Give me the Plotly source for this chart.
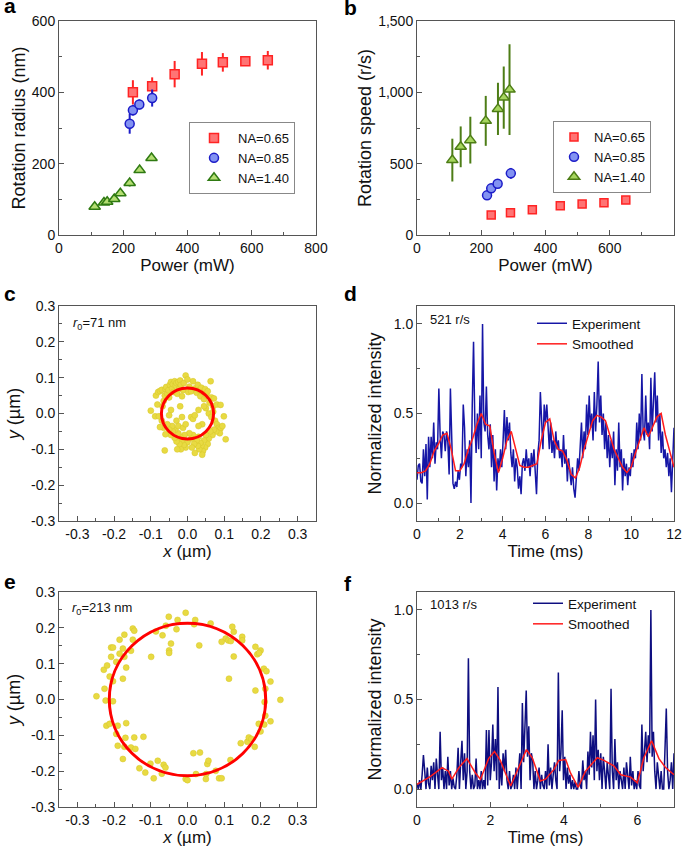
import plotly.graph_objects as go

# ---------------- data ----------------
# panel a / b : power (mW) vs rotation radius (nm) and rotation speed (r/s)
a_p065_x = [230, 290, 360, 445, 510, 580, 650]
a_p065_y = [400, 417, 451, 480, 484, 487, 490]
a_p065_e = [34, 25, 37, 33, 26, 8, 26]
a_p085_x = [220, 230, 250, 290]
a_p085_y = [312, 350, 366, 384]
a_p085_e = [28, 15, 14, 24]
a_p140_x = [111, 140, 150, 172, 191, 220, 251, 288]
a_p140_y = [79, 91, 93, 101, 117, 146, 182, 216]
a_p140_e = [5, 6, 6, 7, 8, 10, 8, 7]

b_p065_x = [231, 291, 359, 446, 514, 582, 650]
b_p065_y = [140, 156, 177, 205, 217, 226, 245]
b_p065_e = [10, 12, 20, 25, 15, 15, 12]
b_p085_x = [218, 231, 251, 292]
b_p085_y = [278, 327, 359, 432]
b_p085_e = [15, 15, 15, 38]
b_p140_x = [110, 136, 166, 214, 252, 270, 288]
b_p140_y = [525, 618, 665, 800, 884, 963, 1019]
b_p140_e = [150, 143, 164, 175, 183, 218, 318]

legend_names = ["NA=0.65", "NA=0.85", "NA=1.40"]

# panel c : particle positions (um), fitted radius
c_x = [-0.1, -0.088, -0.086, -0.08, -0.075, -0.07, -0.068, -0.065, -0.062, -0.06, -0.058, -0.055,
       -0.052, -0.05, -0.048, -0.045, -0.042, -0.04, -0.038, -0.035, -0.032, -0.03, -0.028, -0.025,
       -0.022, -0.02, -0.018, -0.015, -0.012, -0.01, -0.005, 0.0, 0.002, 0.005,
       0.01, 0.015, 0.02, 0.025, 0.028, 0.032, 0.035, 0.038, 0.042, 0.045, 0.048, 0.052, 0.055,
       0.06, 0.063, 0.065, 0.07, 0.072, 0.08, 0.09,
       0.05, 0.058, 0.065, 0.07, 0.075, 0.08, 0.085, 0.09, 0.095, 0.099, 0.104, 0.088, 0.078, 0.072,
       0.068, 0.062, 0.058, 0.055, 0.05, 0.048, 0.045, 0.042, 0.04, 0.038, 0.035, 0.032, 0.03,
       0.028, 0.025, 0.02, 0.018, 0.015, 0.012, 0.01, 0.005,
       0.0, -0.005, -0.008, -0.01, -0.015, -0.018, -0.02, -0.022, -0.025, -0.028, -0.03, -0.033,
       -0.035, -0.04, -0.042, -0.045, -0.05, -0.055, -0.06, -0.062, -0.065, -0.07, -0.075, -0.078, -0.082,
       -0.03, -0.025, -0.015, -0.012, 0.01, 0.015, 0.02, 0.03, -0.02, -0.045, -0.05, 0.045, 0.04,
       -0.005, 0.03]
c_y = [0.008, -0.008, 0.05, 0.06, 0.063, 0.066, 0.02, 0.035, 0.05, 0.068, 0.074, 0.055,
       0.065, 0.045, 0.08, 0.088, 0.07, 0.082, 0.06, 0.09, 0.078, 0.085, 0.055, 0.088,
       0.07, 0.092, 0.08, 0.048, 0.065, 0.085, 0.106, 0.095, 0.06, 0.075,
       0.062, 0.09, 0.07, 0.058, 0.08, 0.066, 0.048, 0.072, 0.06, 0.04, 0.068, 0.05, 0.062,
       0.03, 0.09, 0.045, 0.02, 0.042, 0.025, 0.024,
       0.015, 0.0, -0.01, 0.005, -0.02, -0.03, -0.04, -0.042, -0.035, -0.008, -0.072, -0.055, -0.05, -0.045,
       -0.06, -0.05, -0.07, -0.085, -0.06, -0.095, -0.075, -0.105, -0.115, -0.09, -0.082, -0.1, -0.065,
       -0.09, -0.075, -0.11, -0.085, -0.06, -0.095, -0.07, -0.055,
       -0.08, -0.095, -0.06, -0.088, -0.075, -0.1, -0.065, -0.085, -0.055, -0.1, -0.078, -0.045,
       -0.068, -0.05, -0.035, -0.06, -0.045, -0.03, -0.058, -0.103, -0.04, -0.02, -0.038, -0.008, 0.025,
       -0.02, -0.035, -0.01, -0.04, -0.01, -0.015, -0.005, 0.01, 0.02, 0.01, -0.005, 0.02, -0.03,
       -0.03, -0.035]
c_r0 = 0.071

# panel e : particle positions (um), fitted radius
e_x = [-0.248, -0.228, -0.219, -0.208, -0.208, -0.203, -0.185, -0.172, -0.149, -0.145, -0.149, -0.176,
       -0.154, -0.172, -0.194, -0.185, -0.167, -0.212, -0.203, -0.176, -0.226, -0.223, -0.203, -0.221,
       -0.212, -0.19, -0.194, -0.19, -0.172, -0.167, -0.169, -0.154, -0.145, -0.142, -0.176, -0.12,
       -0.131, -0.115, -0.101, -0.092, -0.081, -0.07, -0.065, -0.06, -0.005, 0.0, 0.016, 0.034,
       0.023, 0.051, 0.054, 0.057, 0.05, 0.077, 0.086, 0.093, 0.117, 0.145, 0.163, 0.167, 0.174,
       0.183, 0.199, 0.209, 0.194, 0.212, 0.226, 0.21, 0.253, 0.185, 0.212, 0.226, 0.208, 0.215,
       0.113, 0.126, 0.185, 0.19, 0.199, 0.195, 0.149, 0.149, 0.126, 0.122, 0.104, 0.111, 0.093,
       0.118, 0.032, 0.063, 0.021, 0.018, -0.005, -0.027, -0.03, -0.051, -0.059, -0.068, -0.086,
       -0.045, -0.05, -0.05, -0.099]
e_y = [0.009, 0.083, 0.095, 0.119, 0.145, 0.145, 0.167, 0.181, 0.198, 0.192, 0.167, 0.142,
       0.136, 0.119, 0.105, 0.128, 0.089, 0.064, 0.051, 0.058, 0.03, -0.003, -0.005, -0.073,
       -0.068, -0.073, -0.096, -0.129, -0.132, -0.066, -0.107, -0.134, -0.106, -0.138, -0.166, -0.104,
       -0.192, -0.204, -0.179, -0.22, -0.171, -0.207, -0.182, -0.19, -0.222, -0.225, -0.15, -0.148,
       -0.208, -0.208, -0.18, -0.171, -0.222, -0.199, -0.22, -0.22, -0.169, -0.122, -0.118, -0.106, -0.11,
       -0.132, -0.089, -0.07, -0.068, -0.045, -0.061, -0.007, -0.001, 0.025, 0.03, 0.05, 0.086, 0.079,
       0.058, 0.12, 0.147, 0.126, 0.137, 0.13, 0.175, 0.165, 0.189, 0.203, 0.17, 0.165, 0.161,
       0.163, 0.151, 0.212, 0.222, 0.21, 0.242, 0.222, 0.196, 0.231, 0.206, 0.179, 0.19,
       0.156, 0.137, 0.13, 0.119]
e_r0 = 0.213

# panel d : normalized intensity, 521 r/s (sample step 0.06 ms)
d_dt = 0.06
d_exp = [0.13, 0.21, 0.22, 0.12, 0.11, 0.30, 0.15, 0.33, 0.02, 0.37,
         0.20, 0.37, 0.25, 0.45, 0.22, 0.34, 0.30, 0.64, 0.38, 0.25,
         0.40, 0.38, 0.29, 0.40, 0.34, 0.16, 0.64, 0.35, 0.11, 0.08,
         0.12, 0.09, 0.18, 0.13, 0.22, 0.20, 0.55, 0.42, 0.15, 0.30,
         0.20, 0.35, 0.00, 0.55, 0.90, 0.45, 0.28, 0.50, 0.30, 0.60,
         0.25, 1.00, 0.45, 0.40, 0.65, 0.38, 0.30, 0.44, 0.20, 0.38,
         0.12, 0.30, 0.07, 0.25, 0.18, 0.30, 0.20, 0.35, 0.52, 0.30,
         0.48, 0.35, 0.45, 0.28, 0.20, 0.30, 0.12, 0.25, 0.20, 0.08,
         0.15, 0.05, 0.22, 0.25, 0.18, 0.30, 0.20, 0.25, 0.15, 0.28,
         0.20, 0.30, 0.18, 0.05, 0.27, 0.35, 0.62, 0.40, 0.30, 0.55,
         0.45, 0.55, 0.40, 0.30, 0.45, 0.28, 0.35, 0.25, 0.40, 0.30,
         0.35, 0.25, 0.30, 0.20, 0.38, 0.22, 0.30, 0.12, 0.25, 0.18,
         0.10, 0.20, 0.08, 0.03, 0.15, 0.25, 0.18, 0.30, 0.45, 0.25,
         0.40, 0.30, 0.55, 0.38, 0.60, 0.42, 0.50, 0.35, 0.62, 0.40,
         0.55, 0.79, 0.45, 0.60, 0.38, 0.50, 0.30, 0.45, 0.25, 0.38,
         0.20, 0.35, 0.25, 0.40, 0.10, 0.30, 0.18, 0.45, 0.20, 0.30,
         0.07, 0.25, 0.15, 0.22, 0.10, 0.20, 0.15, 0.28, 0.20, 0.30,
         0.25, 0.45, 0.30, 0.50, 0.35, 0.72, 0.40, 0.35, 0.60, 0.38,
         0.45, 0.30, 0.70, 0.40, 0.55, 0.73, 0.45, 0.60, 0.35, 0.50,
         0.28, 0.40, 0.25, 0.30, 0.20, 0.28, 0.15, 0.25, 0.06, 0.20,
         0.42]
d_smooth_dt = 0.2
d_smooth = [0.17, 0.17, 0.18, 0.22, 0.29, 0.33, 0.38, 0.39, 0.30, 0.18,
            0.18, 0.22, 0.30, 0.36, 0.44, 0.50, 0.44, 0.43, 0.28, 0.17,
            0.25, 0.35, 0.40, 0.30, 0.21, 0.20, 0.20, 0.21, 0.22, 0.35,
            0.45, 0.47, 0.35, 0.30, 0.29, 0.24, 0.16, 0.14, 0.20, 0.30,
            0.38, 0.46, 0.49, 0.48, 0.46, 0.38, 0.30, 0.25, 0.20, 0.17,
            0.20, 0.28, 0.35, 0.42, 0.37, 0.43, 0.48, 0.50, 0.38, 0.29,
            0.20]

# panel f : normalized intensity, 1013 r/s (sample step 0.035 ms)
f_dt = 0.035
f_exp = [0.03, 0.00, 0.05, 0.00, 0.08, 0.19, 0.10, 0.00, 0.12, 0.03,
         0.00, 0.13, 0.05, 0.15, 0.00, 0.17, 0.08, 0.00, 0.32, 0.05,
         0.12, 0.00, 0.10, 0.00, 0.18, 0.02, 0.10, 0.00, 0.06, 0.01,
         0.00, 0.08, 0.23, 0.00, 0.15, 0.27, 0.05, 0.20, 0.00, 0.10,
         0.73, 0.10, 0.00, 0.08, 0.00, 0.02, 0.17, 0.00, 0.05, 0.00,
         0.10, 0.00, 0.05, 0.00, 0.33, 0.02, 0.33, 0.05, 0.15, 0.36,
         0.10, 0.28, 0.05, 0.57, 0.00, 0.15, 0.02, 0.20, 0.10, 0.22,
         0.05, 0.00, 0.10, 0.00, 0.02, 0.08, 0.00, 0.12, 0.00, 0.10,
         0.20, 0.00, 0.48, 0.15, 0.38, 0.55, 0.18, 0.35, 0.05, 0.20,
         0.16, 0.00, 0.10, 0.00, 0.05, 0.12, 0.00, 0.08, 0.02, 0.00,
         0.10, 0.00, 0.25, 0.02, 0.12, 0.00, 0.08, 0.15, 0.05, 0.00,
         0.65, 0.10, 0.20, 0.44, 0.05, 0.18, 0.00, 0.12, 0.03, 0.08,
         0.00, 0.05, 0.00, 0.04, 0.00, 0.00, 0.10, 0.02, 0.00, 0.16,
         0.05, 0.10, 0.00, 0.21, 0.08, 0.32, 0.12, 0.30, 0.05, 0.50,
         0.10, 0.22, 0.05, 0.20, 0.00, 0.18, 0.10, 0.00, 0.15, 0.05,
         0.00, 0.56, 0.10, 0.00, 0.28, 0.05, 0.15, 0.00, 0.10, 0.05,
         0.00, 0.12, 0.00, 0.15, 0.05, 0.00, 0.18, 0.02, 0.10, 0.00,
         0.05, 0.00, 0.10, 0.02, 0.00, 0.36, 0.10, 0.20, 0.32, 0.15,
         0.30, 0.20, 1.00, 0.18, 0.32, 0.10, 0.00, 0.15, 0.06, 0.00,
         0.10, 0.00, 0.00, 0.20, 0.45, 0.10, 0.00, 0.05, 0.15, 0.00,
         0.20]
f_smooth_t = [0, 0.36, 0.68, 0.86, 0.95, 1.14, 1.36, 1.59, 1.73, 1.95, 2.11, 2.27, 2.55, 2.77,
              2.98, 3.14, 3.36, 3.5, 3.73, 3.86, 4.05, 4.18, 4.39, 4.59, 4.91, 5.09, 5.36, 5.55,
              5.82, 6.0, 6.18, 6.39, 6.59, 6.77, 7.0]
f_smooth = [0.026, 0.07, 0.12, 0.10, 0.055, 0.12, 0.17, 0.09, 0.055, 0.17, 0.21, 0.16, 0.017, 0.12,
            0.22, 0.175, 0.045, 0.055, 0.11, 0.16, 0.165, 0.09, 0.01, 0.10, 0.175, 0.16, 0.13, 0.08,
            0.067, 0.035, 0.175, 0.27, 0.17, 0.12, 0.08]

pos_ticks = [-0.3, -0.2, -0.1, 0.0, 0.1, 0.2, 0.3]
pos_labels = ["-0.3", "-0.2", "-0.1", "0.0", "0.1", "0.2", "0.3"]

# ---------------- figure ----------------
FONT = "Liberation Sans, Arial, sans-serif"
W, H = 685, 850
RED, RED_F = "#ff2424", "#ff7474"
BLUE, BLUE_F = "#1c1cc8", "#8292f2"
GREEN, GREEN_F = "#2f7a12", "#b4de72"
GREEN2, GREEN2_F = "#4d7d16", "#a6d65e"


def fx(px):
    return px / W


def fy(py):
    return 1 - py / H


fig = go.Figure()


def power_traces(xs, ys, es, xa, ya, leg, green_line, green_fill, sq):
    styles = [("square", RED, RED_F, sq), ("circle", BLUE, BLUE_F, 9), ("triangle-up", green_line, green_fill, 10)]
    for (sym, lc, fc, sz), x, y, e, name in zip(styles, xs, ys, es, legend_names):
        fig.add_trace(go.Scatter(
            x=x, y=y, mode="markers", name=name, xaxis=xa, yaxis=ya, legend=leg,
            error_y=dict(type="data", array=e, color=lc, thickness=2, width=0),
            marker=dict(symbol=sym, size=sz, color=fc, line=dict(color=lc, width=1.5)),
        ))


power_traces([a_p065_x, a_p085_x, a_p140_x], [a_p065_y, a_p085_y, a_p140_y],
             [a_p065_e, a_p085_e, a_p140_e], "x", "y", "legend", GREEN, GREEN_F, 9)
power_traces([b_p065_x, b_p085_x, b_p140_x], [b_p065_y, b_p085_y, b_p140_y],
             [b_p065_e, b_p085_e, b_p140_e], "x2", "y2", "legend2", GREEN2, GREEN2_F, 8)

dots = dict(size=6, color="#e8da42", line=dict(color="#d6c628", width=0.5))
fig.add_trace(go.Scatter(x=c_x, y=c_y, mode="markers", marker=dots, xaxis="x3", yaxis="y3", showlegend=False))
fig.add_trace(go.Scatter(x=e_x, y=e_y, mode="markers", marker=dots, xaxis="x5", yaxis="y5", showlegend=False))

fig.add_trace(go.Scatter(y=d_exp, x0=0, dx=d_dt, mode="lines", name="Experiment",
                         line=dict(color="#1616a6", width=1.5), xaxis="x4", yaxis="y4", legend="legend3"))
fig.add_trace(go.Scatter(y=d_smooth, x0=0, dx=d_smooth_dt, mode="lines", name="Smoothed",
                         line=dict(color="#ff1c1c", width=1.5), xaxis="x4", yaxis="y4", legend="legend3"))
fig.add_trace(go.Scatter(y=f_exp, x0=0, dx=f_dt, mode="lines", name="Experiment",
                         line=dict(color="#0e0e80", width=1.5), xaxis="x6", yaxis="y6", legend="legend4"))
fig.add_trace(go.Scatter(x=f_smooth_t, y=f_smooth, mode="lines", name="Smoothed",
                         line=dict(color="#ff1c1c", width=1.5), xaxis="x6", yaxis="y6", legend="legend4"))

# fitted circles
for r0, xr, yr in [(c_r0, "x3", "y3"), (e_r0, "x5", "y5")]:
    fig.add_shape(type="circle", xref=xr, yref=yr, x0=-r0, x1=r0, y0=-r0, y1=r0,
                  line=dict(color="#ff0000", width=3))


def axis(domain, rng, title, anchor, tsize=17, standoff=1, **kw):
    d = dict(domain=domain, range=rng, anchor=anchor, automargin=False,
             showline=True, linecolor="#555", linewidth=1, mirror=True,
             ticks="inside", ticklen=5, tickcolor="#555", tickwidth=1,
             showgrid=False, zeroline=False,
             tickfont=dict(size=14, color="#111", family=FONT),
             title=dict(text=title, font=dict(size=tsize, color="#111", family=FONT), standoff=standoff),
             minor=dict(ticks="inside", ticklen=3, tickcolor="#555", showgrid=False))
    d.update(kw)
    return d


pos_minor = dict(ticks="inside", ticklen=3, tickcolor="#555", tick0=0, dtick=0.05)
colL, colR = [fx(59), fx(316)], [fx(417), fx(674)]
row1, row2, row3 = [fy(235), fy(21)], [fy(521), fy(306)], [fy(807), fy(592)]

fig.update_layout(
    width=W, height=H, margin=dict(l=0, r=0, t=0, b=0),
    paper_bgcolor="white", plot_bgcolor="white",
    font=dict(family=FONT, color="#111"),
    xaxis=axis(colL, [0, 800], "Power (mW)", "y", standoff=0, dtick=200, minor_dtick=100),
    yaxis=axis(row1, [0, 600], "Rotation radius (nm)", "x", tsize=18, dtick=200, minor_dtick=100),
    xaxis2=axis(colR, [0, 800], "Power (mW)", "y2", standoff=0, dtick=200, minor_dtick=100),
    yaxis2=axis(row1, [0, 1500], "Rotation speed (r/s)", "x2", tsize=18, dtick=500,
                tickformat=",d", minor_dtick=250),
    xaxis3=axis(colL, [-0.35, 0.35], "<i>x</i> (µm)", "y3", tickmode="array",
                tickvals=pos_ticks, ticktext=pos_labels, minor=pos_minor),
    yaxis3=axis(row2, [-0.3, 0.3], "<i>y</i> (µm)", "x3", tsize=18, standoff=5, tickmode="array",
                tickvals=pos_ticks, ticktext=pos_labels, minor=pos_minor),
    xaxis4=axis(colR, [0, 12], "Time (ms)", "y4", dtick=2, minor_dtick=1),
    yaxis4=axis(row2, [-0.1, 1.1], "Normalized intensity", "x4", tsize=18, standoff=7, dtick=0.5,
                tickformat=".1f", minor_dtick=0.25),
    xaxis5=axis(colL, [-0.35, 0.35], "<i>x</i> (µm)", "y5", tickmode="array",
                tickvals=pos_ticks, ticktext=pos_labels, minor=pos_minor),
    yaxis5=axis(row3, [-0.3, 0.3], "<i>y</i> (µm)", "x5", tsize=18, standoff=5, tickmode="array",
                tickvals=pos_ticks, ticktext=pos_labels, minor=pos_minor),
    xaxis6=axis(colR, [0, 7], "Time (ms)", "y6", dtick=2, minor_dtick=1),
    yaxis6=axis(row3, [-0.1, 1.1], "Normalized intensity", "x6", tsize=18, standoff=7, dtick=0.5,
                tickformat=".1f", minor_dtick=0.25),
    legend=dict(x=fx(189), y=fy(122), xanchor="left", yanchor="top", bgcolor="white",
                bordercolor="#888", borderwidth=1, itemwidth=38, font=dict(size=13, family=FONT)),
    legend2=dict(x=fx(553), y=fy(121), xanchor="left", yanchor="top", bgcolor="white",
                 bordercolor="#888", borderwidth=1, font=dict(size=13, family=FONT)),
    legend3=dict(x=fx(532), y=fy(308), xanchor="left", yanchor="top", bgcolor="rgba(0,0,0,0)",
                 borderwidth=0, font=dict(size=13.5, family=FONT)),
    legend4=dict(x=fx(528), y=fy(588), xanchor="left", yanchor="top", bgcolor="rgba(0,0,0,0)",
                 borderwidth=0, font=dict(size=13.5, family=FONT)),
)

# panel letters and in-plot labels
letters = [("a", 2, 14), ("b", 342, 16), ("c", 2, 302), ("d", 342, 302), ("e", 2, 590), ("f", 342, 592)]
for txt, lx, base in letters:
    fig.add_annotation(text=f"<b>{txt}</b>", xref="paper", yref="paper", x=fx(lx), y=fy(base + 5),
                       xanchor="left", yanchor="bottom", showarrow=False,
                       font=dict(size=21, color="#000", family=FONT))

labels = [("521 r/s", 428, 329), ("1013 r/s", 428, 614),
          ("<i>r</i><sub>0</sub>=71 nm", 71, 334), ("<i>r</i><sub>0</sub>=213 nm", 70, 619)]
for txt, lx, bottom in labels:
    fig.add_annotation(text=txt, xref="paper", yref="paper", x=fx(lx), y=fy(bottom),
                       xanchor="left", yanchor="bottom", showarrow=False,
                       font=dict(size=13, color="#111", family=FONT))

# the page body has a default 8px margin; remove it so the figure sits at the window origin
fig.write_html("out.html", config={"displayModeBar": False},
               post_script="document.body.style.margin='0';")
